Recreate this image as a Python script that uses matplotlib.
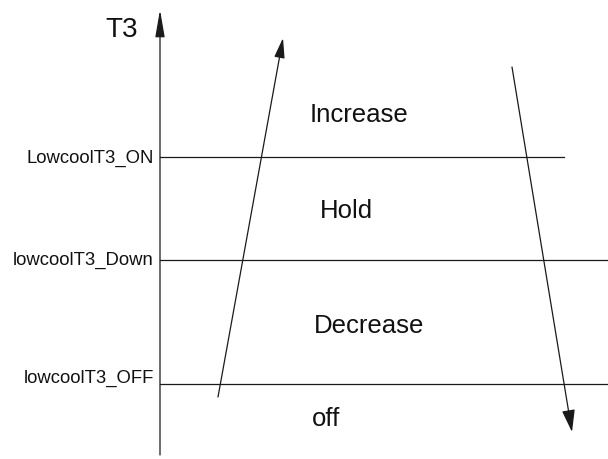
import matplotlib.pyplot as plt

plt.rcParams['font.family'] = ['Liberation Sans', 'DejaVu Sans']

# diagram laid out in pixel units of a 608x459 canvas
W, H = 608, 459

# threshold levels (y) and their labels
level_names = ["LowcoolT3_ON", "lowcoolT3_Down", "lowcoolT3_OFF"]
level_y = [157, 260, 384]
label_y = [158, 260, 378]
level_x_end = [564, 608, 608]

# region captions (text, x centre, baseline y)
region_names = ["Increase", "Hold", "Decrease", "off"]
region_x = [359, 346, 369, 326]
region_y = [122, 218, 333, 426]

# T3 axis
axis_x = 160
axis_y = [455, 10]

# rising / falling trend arrows: (x0, y0) -> (x1, y1)
rise = [(218, 397), (283, 38)]
fall = [(512, 67), (572, 432)]

fig = plt.figure(figsize=(W / 100, H / 100), dpi=100)
ax = fig.add_axes([0, 0, 1, 1])
ax.set_xlim(0, W)
ax.set_ylim(H, 0)
ax.axis("off")

lc = "#1a1a1a"
lw = 0.9


def arrow(p0, p1, hl, hw):
    # hl, hw in pixels -> points (dpi 100)
    k = 72 / 100
    style = "-|>,head_length=%.2f,head_width=%.2f" % (hl * k / 10, hw / 2 * k / 10)
    ax.annotate("", xy=p1, xytext=p0,
                arrowprops=dict(arrowstyle=style, mutation_scale=10,
                                color=lc, lw=lw, shrinkA=0, shrinkB=0))


# vertical axis
arrow((axis_x, axis_y[0]), (axis_x, axis_y[1]), 23, 8)
ax.text(138, 37, "T3", fontsize=20, ha="right", va="baseline",
        color="#111111", fontstretch="condensed")

# threshold lines + labels
for name, y, ty, xe in zip(level_names, level_y, label_y, level_x_end):
    ax.plot([axis_x, xe], [y, y], color=lc, lw=lw)
    ax.text(154, ty, name, fontsize=13.3, ha="right", va="center",
            color="#111111")

# region captions
for name, x, y in zip(region_names, region_x, region_y):
    ax.text(x, y, name, fontsize=18.5, ha="center", va="baseline",
            color="#111111")

arrow(rise[0], rise[1], 17, 9)
arrow(fall[0], fall[1], 19, 11)

fig.savefig("out.png", dpi=100)
